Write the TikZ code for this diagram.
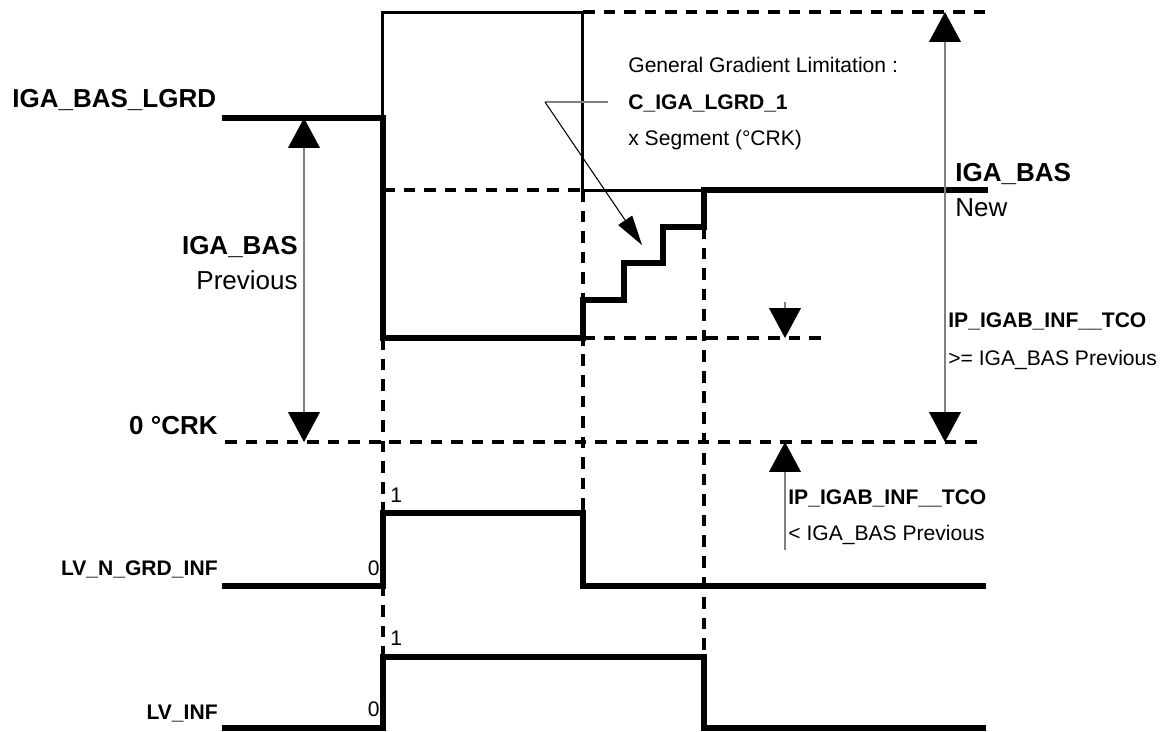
\documentclass[tikz,border=0pt]{standalone}
\usepackage{fontspec}
\setmainfont{Liberation Sans}
\usetikzlibrary{arrows.meta,calc}
\usepackage{tkz-euclide}
\definecolor{ShaftClr}{rgb}{0.5,0.5,0.5}

\tikzset{
  sigline/.style={line width=3.4pt,line cap=rect,line join=miter},
  boxline/.style={line width=1.7pt,line join=miter},
  dashline/.style={line width=2.2pt,dash pattern=on 6.6pt off 5.1pt},
  dimline/.style={line width=.85pt,color=ShaftClr,
    arrows={Triangle[width=18pt,length=17pt,color=black]-Triangle[width=18pt,length=17pt,color=black]}},
  bigbf/.style={font=\fontsize{14.8}{16}\selectfont\bfseries,inner sep=0pt,text height=10.6pt,text depth=0pt},
  bigrm/.style={font=\fontsize{14.8}{16}\selectfont,inner sep=0pt,text height=10.6pt,text depth=0pt},
  smallbf/.style={font=\fontsize{12}{14}\selectfont\bfseries,inner sep=0pt,text height=8.6pt,text depth=0pt},
  smallrm/.style={font=\fontsize{12}{14}\selectfont,inner sep=0pt,text height=8.6pt,text depth=0pt}
}

\begin{document}
\begin{tikzpicture}[scale=.2]
\useasboundingbox (0,0) rectangle (116.9,73.1);

% IGA_BAS signal
\tkzDefPoints{22.5/61.3/G0,38.3/61.3/G1,38.3/39.3/G2,58.3/39.3/G3,58.3/43.1/G4,
  62.4/43.1/G5,62.4/46.8/G6,66.3/46.8/G7,66.3/50.4/G8,70.4/50.4/G9,70.4/54.1/G10,98.5/54.1/G11}
\tkzDefPoints{38.3/71.9/B1,58.3/71.9/B2,58.3/54.1/B3,98.5/71.9/T,38.3/54.1/D1,82.3/39.3/D2}
\tkzDefPoints{22.5/28.9/Z1,97.8/28.9/Z2}

% flags
\tkzDefPoints{22.5/14.5/N0,38.3/14.5/N1,38.3/21.8/N2,58.3/21.8/N3,58.3/14.5/N4,98.3/14.5/N5}
\tkzDefPoints{22.5/0.3/I0,38.3/0.3/I1,38.3/7.4/I2,70.4/7.4/I3,70.4/0.3/I4,98.3/0.3/I5}

% arrows
\tkzDefPoints{30.4/61.3/L1,30.4/28.9/L2,94.5/71.9/R1,94.5/28.9/R2}
\tkzDefPoints{78.5/42.9/M1,78.5/39.3/M2,78.5/18.1/M3,78.5/28.9/M4}
\tkzDefPoints{60.8/62.9/K1,54.5/62.9/K2,64.2/48.6/K3}

\draw[dashline] (B2) -- (T);
\draw[dashline] (D1) -- (B3);
\draw[dashline] (G3) -- (D2);
\draw[dashline] (Z1) -- (Z2);
\draw[dashline] (G2) -- (I2);
\draw[dashline] (B3) -- (N3);
\draw[dashline] (G9) -- (I3);

\draw[boxline] (G1) -- (B1) -- (B2) -- (B3) -- (G10);

\draw[sigline] (G0) -- (G1) -- (G2) -- (G3) -- (G4) -- (G5) -- (G6) -- (G7) -- (G8) -- (G9) -- (G10) -- (G11);
\draw[sigline] (N0) -- (N1) -- (N2) -- (N3) -- (N4) -- (N5);
\draw[sigline] (I0) -- (I1) -- (I2) -- (I3) -- (I4) -- (I5);

\draw[dimline] (L1) -- (L2);
\draw[dimline] (R1) -- (R2);
\draw[dimline,arrows={-Triangle[width=18pt,length=17pt,color=black]}] (M1) -- (M2);
\draw[dimline,arrows={-Triangle[width=18pt,length=17pt,color=black]}] (M3) -- (M4);

\draw[line width=.85pt,color=ShaftClr] (K1) -- (K2);
\draw[line width=.6pt,-{Triangle[width=9.5pt,length=17pt]}] (K2) -- (K3);

\node[bigbf,anchor=west] (lgrd) at (1.2,63.3) {IGA\_BAS\_LGRD};
\node[bigbf,anchor=east] (prevname) at (29.8,48.6) {IGA\_BAS};
\node[bigrm,anchor=east] (prev) at (29.8,45.1) {Previous};
\node[bigbf,anchor=east] (crk) at (21.8,30.6) {0 °CRK};

\node[smallrm,anchor=west] (grad) at (62.8,66.6) {General Gradient Limitation :};
\node[smallbf,anchor=west] (cal) at (62.8,62.9) {C\_IGA\_LGRD\_1};
\node[smallrm,anchor=west] (seg) at (62.8,59.3) {x Segment (°CRK)};

\node[bigbf,anchor=west] (newname) at (95.5,55.9) {IGA\_BAS};
\node[bigrm,anchor=west] (new) at (95.5,52.4) {New};

\node[smallbf,anchor=west] (tcohi) at (94.8,41.1) {IP\_IGAB\_INF\_\_TCO};
\node[smallrm,anchor=west] (tcohitxt) at (94.8,37.3) {>= IGA\_BAS Previous};
\node[smallbf,anchor=west] (tcolo) at (78.8,23.4) {IP\_IGAB\_INF\_\_TCO};
\node[smallrm,anchor=west] (tcolotxt) at (78.8,19.8) {< IGA\_BAS Previous};

\node[smallbf,anchor=east] (ngrd) at (21.8,16.3) {LV\_N\_GRD\_INF};
\node[smallbf,anchor=east] (inf) at (21.8,1.9) {LV\_INF};
\node[smallrm,anchor=east] (ngrdlo) at (38.0,16.3) {0};
\node[smallrm,anchor=west] (ngrdhi) at (39.0,23.6) {1};
\node[smallrm,anchor=east] (inflo) at (38.0,2.2) {0};
\node[smallrm,anchor=west] (infhi) at (39.0,9.3) {1};

\end{tikzpicture}
\end{document}
